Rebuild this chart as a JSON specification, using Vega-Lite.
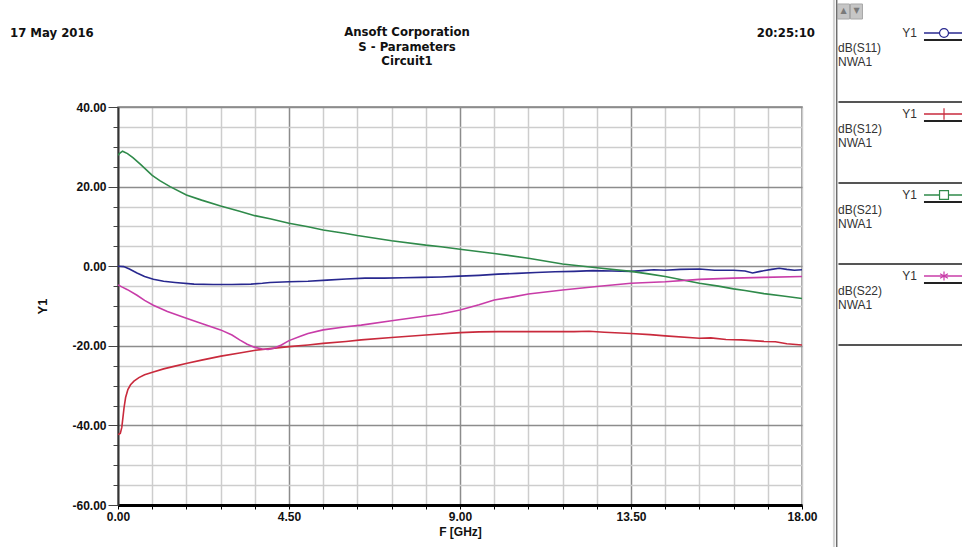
{
  "$schema": "https://vega.github.io/schema/vega-lite/v6.json",
  "width": 684,
  "height": 398,
  "autosize": {"type": "none"},
  "padding": {"left": 118, "top": 107, "right": 160, "bottom": 42},
  "background": "white",
  "config": {
    "view": {"stroke": "#808080", "strokeWidth": 1.5},
    "font": "Liberation Sans"
  },
  "datasets": {
    "curves": [
      {"f":0,"s":"dB(S11)","v":0},{"f":0.15,"s":"dB(S11)","v":-0.1},{"f":0.3,"s":"dB(S11)","v":-0.7},{"f":0.5,"s":"dB(S11)","v":-1.7},{"f":0.7,"s":"dB(S11)","v":-2.6},{"f":0.93,"s":"dB(S11)","v":-3.3},{"f":1.2,"s":"dB(S11)","v":-3.8},{"f":1.5,"s":"dB(S11)","v":-4.1},{"f":2.0,"s":"dB(S11)","v":-4.5},{"f":2.5,"s":"dB(S11)","v":-4.6},{"f":3.0,"s":"dB(S11)","v":-4.6},{"f":3.5,"s":"dB(S11)","v":-4.5},{"f":3.8,"s":"dB(S11)","v":-4.3},{"f":4.0,"s":"dB(S11)","v":-4.1},{"f":4.5,"s":"dB(S11)","v":-3.9},{"f":5.0,"s":"dB(S11)","v":-3.8},{"f":5.5,"s":"dB(S11)","v":-3.5},{"f":6.0,"s":"dB(S11)","v":-3.2},{"f":6.5,"s":"dB(S11)","v":-3.0},{"f":7.0,"s":"dB(S11)","v":-3.0},{"f":7.5,"s":"dB(S11)","v":-2.9},{"f":8.0,"s":"dB(S11)","v":-2.8},{"f":8.5,"s":"dB(S11)","v":-2.7},{"f":9.0,"s":"dB(S11)","v":-2.5},{"f":9.5,"s":"dB(S11)","v":-2.3},{"f":10.0,"s":"dB(S11)","v":-2.0},{"f":10.5,"s":"dB(S11)","v":-1.8},{"f":11.0,"s":"dB(S11)","v":-1.6},{"f":11.5,"s":"dB(S11)","v":-1.4},{"f":12.0,"s":"dB(S11)","v":-1.3},{"f":12.5,"s":"dB(S11)","v":-1.1},{"f":13.0,"s":"dB(S11)","v":-1.2},{"f":13.5,"s":"dB(S11)","v":-1.3},{"f":13.8,"s":"dB(S11)","v":-1.1},{"f":14.1,"s":"dB(S11)","v":-0.9},{"f":14.4,"s":"dB(S11)","v":-1.0},{"f":14.8,"s":"dB(S11)","v":-0.8},{"f":15.3,"s":"dB(S11)","v":-0.7},{"f":15.7,"s":"dB(S11)","v":-1.0},{"f":16.2,"s":"dB(S11)","v":-1.0},{"f":16.5,"s":"dB(S11)","v":-1.2},{"f":16.7,"s":"dB(S11)","v":-1.7},{"f":16.9,"s":"dB(S11)","v":-1.3},{"f":17.2,"s":"dB(S11)","v":-0.8},{"f":17.4,"s":"dB(S11)","v":-0.5},{"f":17.6,"s":"dB(S11)","v":-0.8},{"f":17.8,"s":"dB(S11)","v":-1.0},{"f":18.0,"s":"dB(S11)","v":-0.9},
      {"f":0,"s":"dB(S12)","v":-42.3},{"f":0.06,"s":"dB(S12)","v":-42.0},{"f":0.1,"s":"dB(S12)","v":-40.5},{"f":0.13,"s":"dB(S12)","v":-38},{"f":0.16,"s":"dB(S12)","v":-35.5},{"f":0.2,"s":"dB(S12)","v":-33},{"f":0.26,"s":"dB(S12)","v":-31},{"f":0.33,"s":"dB(S12)","v":-29.8},{"f":0.42,"s":"dB(S12)","v":-28.9},{"f":0.55,"s":"dB(S12)","v":-28.0},{"f":0.7,"s":"dB(S12)","v":-27.3},{"f":0.93,"s":"dB(S12)","v":-26.6},{"f":1.2,"s":"dB(S12)","v":-25.8},{"f":1.5,"s":"dB(S12)","v":-25.1},{"f":1.82,"s":"dB(S12)","v":-24.4},{"f":2.2,"s":"dB(S12)","v":-23.6},{"f":2.71,"s":"dB(S12)","v":-22.6},{"f":3.2,"s":"dB(S12)","v":-21.8},{"f":3.62,"s":"dB(S12)","v":-21.1},{"f":4.0,"s":"dB(S12)","v":-20.7},{"f":4.5,"s":"dB(S12)","v":-20.2},{"f":5.0,"s":"dB(S12)","v":-19.8},{"f":5.4,"s":"dB(S12)","v":-19.4},{"f":6.0,"s":"dB(S12)","v":-18.9},{"f":6.4,"s":"dB(S12)","v":-18.5},{"f":7.2,"s":"dB(S12)","v":-17.9},{"f":8.1,"s":"dB(S12)","v":-17.3},{"f":9.0,"s":"dB(S12)","v":-16.7},{"f":9.5,"s":"dB(S12)","v":-16.5},{"f":10.0,"s":"dB(S12)","v":-16.45},{"f":11.0,"s":"dB(S12)","v":-16.45},{"f":12.0,"s":"dB(S12)","v":-16.45},{"f":12.4,"s":"dB(S12)","v":-16.35},{"f":12.8,"s":"dB(S12)","v":-16.6},{"f":13.5,"s":"dB(S12)","v":-16.9},{"f":14.0,"s":"dB(S12)","v":-17.2},{"f":14.4,"s":"dB(S12)","v":-17.5},{"f":15.3,"s":"dB(S12)","v":-18.1},{"f":15.6,"s":"dB(S12)","v":-18.0},{"f":16.0,"s":"dB(S12)","v":-18.4},{"f":16.4,"s":"dB(S12)","v":-18.5},{"f":17.0,"s":"dB(S12)","v":-18.9},{"f":17.3,"s":"dB(S12)","v":-19.0},{"f":17.6,"s":"dB(S12)","v":-19.5},{"f":18.0,"s":"dB(S12)","v":-19.8},
      {"f":0,"s":"dB(S21)","v":27.9},{"f":0.05,"s":"dB(S21)","v":28.4},{"f":0.12,"s":"dB(S21)","v":28.9},{"f":0.25,"s":"dB(S21)","v":28.3},{"f":0.4,"s":"dB(S21)","v":27.2},{"f":0.6,"s":"dB(S21)","v":25.5},{"f":0.9,"s":"dB(S21)","v":22.8},{"f":1.1,"s":"dB(S21)","v":21.5},{"f":1.37,"s":"dB(S21)","v":20.0},{"f":1.8,"s":"dB(S21)","v":17.9},{"f":2.2,"s":"dB(S21)","v":16.6},{"f":2.7,"s":"dB(S21)","v":15.1},{"f":3.2,"s":"dB(S21)","v":13.8},{"f":3.6,"s":"dB(S21)","v":12.7},{"f":4.0,"s":"dB(S21)","v":11.9},{"f":4.5,"s":"dB(S21)","v":10.8},{"f":5.0,"s":"dB(S21)","v":9.9},{"f":5.4,"s":"dB(S21)","v":9.1},{"f":6.0,"s":"dB(S21)","v":8.2},{"f":6.3,"s":"dB(S21)","v":7.7},{"f":7.2,"s":"dB(S21)","v":6.4},{"f":8.1,"s":"dB(S21)","v":5.3},{"f":8.5,"s":"dB(S21)","v":4.9},{"f":9.0,"s":"dB(S21)","v":4.25},{"f":9.9,"s":"dB(S21)","v":3.2},{"f":10.8,"s":"dB(S21)","v":2.0},{"f":11.7,"s":"dB(S21)","v":0.55},{"f":12.6,"s":"dB(S21)","v":-0.4},{"f":13.5,"s":"dB(S21)","v":-1.3},{"f":14.0,"s":"dB(S21)","v":-2.0},{"f":14.4,"s":"dB(S21)","v":-2.6},{"f":15.0,"s":"dB(S21)","v":-3.7},{"f":15.3,"s":"dB(S21)","v":-4.3},{"f":15.8,"s":"dB(S21)","v":-5.0},{"f":16.2,"s":"dB(S21)","v":-5.7},{"f":16.5,"s":"dB(S21)","v":-6.1},{"f":17.0,"s":"dB(S21)","v":-6.9},{"f":17.5,"s":"dB(S21)","v":-7.5},{"f":18.0,"s":"dB(S21)","v":-8.1},
      {"f":0,"s":"dB(S22)","v":-4.7},{"f":0.1,"s":"dB(S22)","v":-5.2},{"f":0.25,"s":"dB(S22)","v":-5.9},{"f":0.5,"s":"dB(S22)","v":-7.3},{"f":0.7,"s":"dB(S22)","v":-8.6},{"f":0.93,"s":"dB(S22)","v":-9.8},{"f":1.3,"s":"dB(S22)","v":-11.4},{"f":1.8,"s":"dB(S22)","v":-13.1},{"f":2.2,"s":"dB(S22)","v":-14.4},{"f":2.7,"s":"dB(S22)","v":-16.0},{"f":3.0,"s":"dB(S22)","v":-17.3},{"f":3.2,"s":"dB(S22)","v":-18.5},{"f":3.4,"s":"dB(S22)","v":-19.6},{"f":3.6,"s":"dB(S22)","v":-20.4},{"f":3.8,"s":"dB(S22)","v":-20.8},{"f":3.95,"s":"dB(S22)","v":-20.9},{"f":4.1,"s":"dB(S22)","v":-20.6},{"f":4.3,"s":"dB(S22)","v":-19.8},{"f":4.5,"s":"dB(S22)","v":-18.7},{"f":4.8,"s":"dB(S22)","v":-17.6},{"f":5.0,"s":"dB(S22)","v":-16.9},{"f":5.4,"s":"dB(S22)","v":-16.0},{"f":6.0,"s":"dB(S22)","v":-15.2},{"f":6.4,"s":"dB(S22)","v":-14.8},{"f":7.2,"s":"dB(S22)","v":-13.7},{"f":8.1,"s":"dB(S22)","v":-12.5},{"f":8.5,"s":"dB(S22)","v":-12.0},{"f":9.0,"s":"dB(S22)","v":-11.0},{"f":9.5,"s":"dB(S22)","v":-9.7},{"f":9.9,"s":"dB(S22)","v":-8.5},{"f":10.4,"s":"dB(S22)","v":-7.7},{"f":10.8,"s":"dB(S22)","v":-7.0},{"f":11.7,"s":"dB(S22)","v":-6.0},{"f":12.6,"s":"dB(S22)","v":-5.1},{"f":13.5,"s":"dB(S22)","v":-4.3},{"f":14.4,"s":"dB(S22)","v":-3.9},{"f":15.3,"s":"dB(S22)","v":-3.3},{"f":16.2,"s":"dB(S22)","v":-3.0},{"f":17.0,"s":"dB(S22)","v":-2.8},{"f":18.0,"s":"dB(S22)","v":-2.6}
    ],
    "legend": [
      {"series": "dB(S11)", "file": "NWA1"},
      {"series": "dB(S12)", "file": "NWA1"},
      {"series": "dB(S21)", "file": "NWA1"},
      {"series": "dB(S22)", "file": "NWA1"}
    ]
  },
  "layer": [
    {
      "layer": [
        {
          "data": {"name": "curves"},
          "mark": {"type": "line", "strokeWidth": 1.6, "clip": true},
          "encoding": {
            "x": {
              "field": "f", "type": "quantitative",
              "scale": {"domain": [0, 18], "nice": false, "zero": false},
              "axis": {
                "values": [0, 0.9, 1.8, 2.7, 3.6, 4.5, 5.4, 6.3, 7.2, 8.1, 9, 9.9, 10.8, 11.7, 12.6, 13.5, 14.4, 15.3, 16.2, 17.1, 18],
                "tickCount": 40,
                "labelExpr": "(datum.value == 0 || datum.value == 4.5 || datum.value == 9 || datum.value == 13.5 || datum.value == 18) ? format(datum.value, '.2f') : ''",
                "title": "F [GHz]",
                "titleFont": "Liberation Sans", "titleFontSize": 12, "titleFontWeight": "bold", "titleColor": "#111111", "titlePadding": 4,
                "labelFont": "Liberation Sans", "labelFontSize": 12, "labelFontWeight": "bold", "labelColor": "#111111", "labelPadding": 2,
                "labelFlush": false, "labelOverlap": false,
                "domainColor": "#000000", "domainWidth": 3,
                "tickColor": "#000000", "tickSize": 4, "tickWidth": 1,
                "grid": true,
                "gridColor": {"condition": {"test": "datum.value == 4.5 || datum.value == 9 || datum.value == 13.5", "value": "#8c8c8c"}, "value": "#cdcdcd"},
                "gridWidth": 1.5
              }
            },
            "y": {
              "field": "v", "type": "quantitative",
              "scale": {"domain": [-60, 40], "nice": false, "zero": false},
              "axis": {
                "values": [-60, -55, -50, -45, -40, -35, -30, -25, -20, -15, -10, -5, 0, 5, 10, 15, 20, 25, 30, 35, 40],
                "tickCount": 40,
                "labelExpr": "datum.value % 20 === 0 ? (datum.value < 0 ? '-' : '') + format(abs(datum.value), '.2f') : ''",
                "title": "Y1",
                "titleFont": "Liberation Sans", "titleFontSize": 13, "titleFontWeight": "bold", "titleColor": "#111111", "titlePadding": 22,
                "labelFont": "Liberation Sans", "labelFontSize": 12, "labelFontWeight": "bold", "labelColor": "#111111", "labelPadding": 2,
                "labelFlush": false, "labelOverlap": false,
                "domainColor": "#333333", "domainWidth": 2,
                "tickColor": "#444444",
                "tickSize": {"condition": {"test": "datum.value % 20 === 0", "value": 10}, "value": 5},
                "tickWidth": 1,
                "grid": true,
                "gridColor": {"condition": {"test": "datum.value % 20 === 0", "value": "#8c8c8c"}, "value": "#cdcdcd"},
                "gridWidth": 1.5
              }
            },
            "color": {
              "field": "s", "type": "nominal",
              "scale": {"domain": ["dB(S11)", "dB(S12)", "dB(S21)", "dB(S22)"], "range": ["#28288f", "#c92a3c", "#2f8a4a", "#c83ca8"]},
              "legend": null
            }
          }
        },
        {
          "data": {"values": [{"label": "17 May 2016"}]},
          "mark": {"type": "text", "align": "left", "baseline": "middle", "font": "Liberation Sans Narrow, Arial Narrow, DejaVu Sans Condensed, Liberation Sans", "fontSize": 13, "fontWeight": "bold", "color": "#111111"},
          "encoding": {
            "x": {"datum": -2.842, "type": "quantitative", "scale": {"domain": [0, 18]}},
            "y": {"datum": 58.6, "type": "quantitative", "scale": {"domain": [-60, 40]}},
            "text": {"field": "label"}
          }
        },
        {
          "data": {"values": [{"label": "20:25:10"}]},
          "mark": {"type": "text", "align": "right", "baseline": "middle", "font": "Liberation Sans Narrow, Arial Narrow, DejaVu Sans Condensed, Liberation Sans", "fontSize": 13, "fontWeight": "bold", "color": "#111111"},
          "encoding": {
            "x": {"datum": 18.342, "type": "quantitative", "scale": {"domain": [0, 18]}},
            "y": {"datum": 58.6, "type": "quantitative", "scale": {"domain": [-60, 40]}},
            "text": {"field": "label"}
          }
        },
        {
          "data": {"values": [{"label": "Ansoft Corporation\nS - Parameters\nCircuit1"}]},
          "mark": {"type": "text", "align": "center", "baseline": "top", "lineBreak": "\n", "lineHeight": 14.5, "font": "Liberation Sans Narrow, Arial Narrow, DejaVu Sans Condensed, Liberation Sans", "fontSize": 13, "fontWeight": "bold", "color": "#111111"},
          "encoding": {
            "x": {"datum": 7.605, "type": "quantitative", "scale": {"domain": [0, 18]}},
            "y": {"datum": 60.35, "type": "quantitative", "scale": {"domain": [-60, 40]}},
            "text": {"field": "label"}
          }
        },
        {
          "data": {"values": [{"k": "light"}]},
          "mark": {"type": "rule", "color": "#d4d4d4", "strokeWidth": 2},
          "encoding": {
            "x": {"datum": 18.84, "type": "quantitative", "scale": {"domain": [0, 18]}},
            "y": {"datum": 66.9, "type": "quantitative", "scale": {"domain": [-60, 40]}},
            "y2": {"datum": -70.6}
          }
        },
        {
          "data": {"values": [{"k": "dark"}]},
          "mark": {"type": "rule", "color": "#6e6e6e", "strokeWidth": 1.5},
          "encoding": {
            "x": {"datum": 18.913, "type": "quantitative", "scale": {"domain": [0, 18]}},
            "y": {"datum": 66.9, "type": "quantitative", "scale": {"domain": [-60, 40]}},
            "y2": {"datum": -70.6}
          }
        },
        {
          "data": {"values": [{"b": "up", "x0": 18.934, "x1": 19.25}, {"b": "down", "x0": 19.276, "x1": 19.592}]},
          "mark": {"type": "rect", "fill": "#c6c6c6", "stroke": "#a8a8a8", "strokeWidth": 1},
          "encoding": {
            "x": {"field": "x0", "type": "quantitative", "scale": {"domain": [0, 18]}},
            "x2": {"field": "x1"},
            "y": {"datum": 65.88, "type": "quantitative", "scale": {"domain": [-60, 40]}},
            "y2": {"datum": 62.11}
          }
        },
        {
          "data": {"values": [{"g": "▲", "xc": 19.092}, {"g": "▼", "xc": 19.434}]},
          "mark": {"type": "text", "align": "center", "baseline": "middle", "font": "DejaVu Sans", "fontSize": 8, "color": "#7a7a7a"},
          "encoding": {
            "x": {"field": "xc", "type": "quantitative", "scale": {"domain": [0, 18]}},
            "y": {"datum": 64.0, "type": "quantitative", "scale": {"domain": [-60, 40]}},
            "text": {"field": "g"}
          }
        }
      ]
    },
    {
      "data": {"name": "legend"},
      "layer": [
        {
          "mark": {"type": "rule", "color": "#555555", "strokeWidth": 2, "yOffset": 69},
          "encoding": {
            "x": {"datum": 18.96, "type": "quantitative", "scale": {"domain": [0, 18]}},
            "x2": {"datum": 22.25},
            "y": {"field": "series", "type": "nominal", "scale": {"type": "point", "domain": ["dB(S11)", "dB(S12)", "dB(S21)", "dB(S22)"], "range": [-74, 169], "padding": 0}, "axis": null}
          }
        },
        {
          "mark": {"type": "rule", "color": "#222222", "strokeWidth": 2, "yOffset": 7},
          "encoding": {
            "x": {"datum": 21.21, "type": "quantitative", "scale": {"domain": [0, 18]}},
            "x2": {"datum": 22.25},
            "y": {"field": "series", "type": "nominal", "scale": {"type": "point", "domain": ["dB(S11)", "dB(S12)", "dB(S21)", "dB(S22)"], "range": [-74, 169], "padding": 0}, "axis": null}
          }
        },
        {
          "mark": {"type": "rule", "strokeWidth": 1.3},
          "encoding": {
            "x": {"datum": 21.21, "type": "quantitative", "scale": {"domain": [0, 18]}},
            "x2": {"datum": 22.25},
            "y": {"field": "series", "type": "nominal", "scale": {"type": "point", "domain": ["dB(S11)", "dB(S12)", "dB(S21)", "dB(S22)"], "range": [-74, 169], "padding": 0}, "axis": null},
            "color": {"field": "series", "type": "nominal", "legend": null}
          }
        },
        {
          "mark": {"type": "point", "filled": false, "fill": "white", "strokeWidth": 1.2, "opacity": 1, "size": 80},
          "encoding": {
            "x": {"datum": 21.737, "type": "quantitative", "scale": {"domain": [0, 18]}},
            "y": {"field": "series", "type": "nominal", "scale": {"type": "point", "domain": ["dB(S11)", "dB(S12)", "dB(S21)", "dB(S22)"], "range": [-74, 169], "padding": 0}, "axis": null},
            "color": {"field": "series", "type": "nominal", "legend": null},
            "shape": {"field": "series", "type": "nominal", "scale": {"domain": ["dB(S11)", "dB(S12)", "dB(S21)", "dB(S22)"], "range": ["circle", "M0,-1.3V1.3", "square", "M0,-1V1M-0.87,-0.5L0.87,0.5M-0.87,0.5L0.87,-0.5"]}, "legend": null}
          }
        },
        {
          "mark": {"type": "text", "align": "right", "baseline": "middle", "font": "Liberation Sans", "fontSize": 12, "color": "#333333"},
          "encoding": {
            "x": {"datum": 21.026, "type": "quantitative", "scale": {"domain": [0, 18]}},
            "y": {"field": "series", "type": "nominal", "scale": {"type": "point", "domain": ["dB(S11)", "dB(S12)", "dB(S21)", "dB(S22)"], "range": [-74, 169], "padding": 0}, "axis": null},
            "text": {"value": "Y1"}
          }
        },
        {
          "mark": {"type": "text", "align": "left", "baseline": "middle", "font": "Liberation Sans", "fontSize": 12, "color": "#333333", "dy": 15},
          "encoding": {
            "x": {"datum": 18.947, "type": "quantitative", "scale": {"domain": [0, 18]}},
            "y": {"field": "series", "type": "nominal", "scale": {"type": "point", "domain": ["dB(S11)", "dB(S12)", "dB(S21)", "dB(S22)"], "range": [-74, 169], "padding": 0}, "axis": null},
            "text": {"field": "series"}
          }
        },
        {
          "mark": {"type": "text", "align": "left", "baseline": "middle", "font": "Liberation Sans", "fontSize": 12, "color": "#333333", "dy": 29},
          "encoding": {
            "x": {"datum": 18.947, "type": "quantitative", "scale": {"domain": [0, 18]}},
            "y": {"field": "series", "type": "nominal", "scale": {"type": "point", "domain": ["dB(S11)", "dB(S12)", "dB(S21)", "dB(S22)"], "range": [-74, 169], "padding": 0}, "axis": null},
            "text": {"field": "file"}
          }
        }
      ]
    }
  ],
  "resolve": {"scale": {"y": "independent"}, "axis": {"y": "independent"}}
}
